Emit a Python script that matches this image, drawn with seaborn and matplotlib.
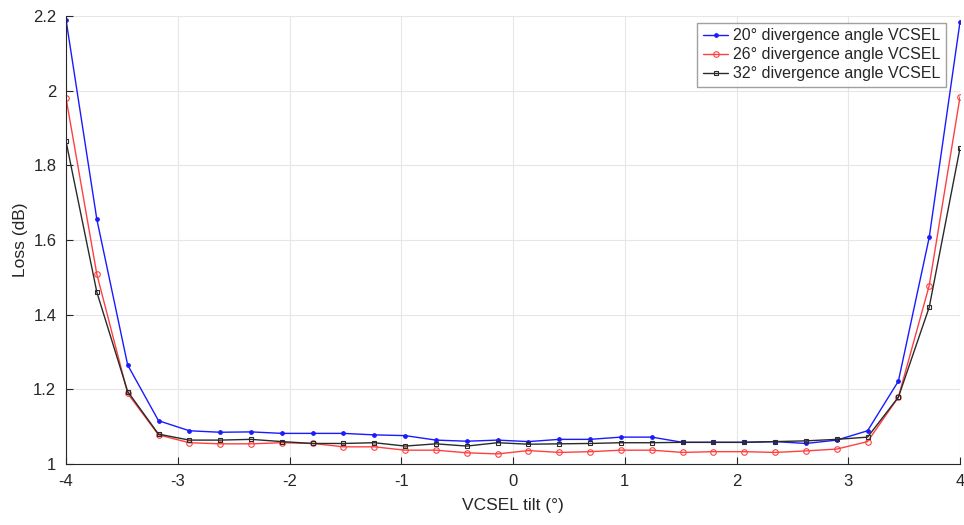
import numpy as np
import pandas as pd
import matplotlib
matplotlib.use("Agg")
import matplotlib.pyplot as plt
import seaborn as sns

# ---- data ----
tilt = np.linspace(-4, 4, 30)
loss_20 = [2.19, 1.655, 1.265, 1.116, 1.089, 1.085, 1.086, 1.082, 1.082, 1.082,
           1.078, 1.076, 1.064, 1.061, 1.064, 1.060, 1.066, 1.066, 1.072, 1.072,
           1.058, 1.058, 1.058, 1.060, 1.055, 1.064, 1.089, 1.222, 1.607, 2.185]
loss_26 = [1.98, 1.508, 1.189, 1.078, 1.057, 1.054, 1.054, 1.057, 1.055, 1.046,
           1.046, 1.037, 1.037, 1.030, 1.027, 1.036, 1.031, 1.033, 1.037, 1.037,
           1.031, 1.033, 1.033, 1.031, 1.035, 1.040, 1.060, 1.179, 1.478, 1.984]
loss_32 = [1.864, 1.46, 1.194, 1.080, 1.064, 1.064, 1.066, 1.060, 1.055, 1.055,
           1.057, 1.048, 1.054, 1.048, 1.057, 1.053, 1.054, 1.055, 1.057, 1.057,
           1.058, 1.058, 1.058, 1.060, 1.062, 1.066, 1.072, 1.179, 1.420, 1.847]
series_labels = ["20° divergence angle VCSEL",
                 "26° divergence angle VCSEL",
                 "32° divergence angle VCSEL"]
x_ticks = [-4, -3, -2, -1, 0, 1, 2, 3, 4]
y_ticks = [1, 1.2, 1.4, 1.6, 1.8, 2, 2.2]

sns.set_theme(style="white")
plt.rcParams['font.family'] = ['Liberation Sans', 'DejaVu Sans']

df = pd.concat([
    pd.DataFrame({"tilt": tilt, "loss": loss_20, "series": series_labels[0]}),
    pd.DataFrame({"tilt": tilt, "loss": loss_26, "series": series_labels[1]}),
    pd.DataFrame({"tilt": tilt, "loss": loss_32, "series": series_labels[2]}),
])

fig = plt.figure(figsize=(9.64, 5.25), dpi=100)
ax = fig.add_axes([0.0685, 0.1162, 0.9274, 0.8533])

styles = [
    dict(color="#1a1aff", marker="o", markersize=2.6, markerfacecolor="#1a1aff", markeredgecolor="#1a1aff"),
    dict(color="#ff4040", marker="o", markersize=4, markerfacecolor="none", markeredgecolor="#ff4040"),
    dict(color="#2a2a2a", marker="s", markersize=3.2, markerfacecolor="none", markeredgecolor="#2a2a2a"),
]
for lab, st in zip(series_labels, styles):
    sub = df[df["series"] == lab]
    sns.lineplot(data=sub, x="tilt", y="loss", ax=ax, label=lab, linewidth=1.0,
                 markeredgewidth=0.8, **st)

ax.set_xlim(-4, 4)
ax.set_ylim(1, 2.2)
ax.set_xticks(x_ticks)
ax.set_xticklabels([str(t) for t in x_ticks])
ax.set_yticks(y_ticks)
ax.set_yticklabels(["1", "1.2", "1.4", "1.6", "1.8", "2", "2.2"])
ax.grid(True, color="#e6e6e6", linewidth=0.8)
ax.set_axisbelow(True)
for s in ["top", "right"]:
    ax.spines[s].set_visible(False)
for s in ["left", "bottom"]:
    ax.spines[s].set_color("#262626")
    ax.spines[s].set_linewidth(0.8)
ax.tick_params(direction="in", length=5, width=0.8, colors="#262626",
               labelsize=12, bottom=True, left=True, pad=7)
ax.set_xlabel("VCSEL tilt (°)", fontsize=12.5, color="#262626", labelpad=7)
ax.set_ylabel("Loss (dB)", fontsize=12.5, color="#262626", labelpad=4)

leg = ax.legend(loc="upper right", bbox_to_anchor=(0.988, 0.992), fontsize=11.5,
                frameon=True, fancybox=False, edgecolor="#888888",
                handlelength=1.6, handletextpad=0.3, borderpad=0.35,
                labelspacing=0.25, borderaxespad=0.2)
leg.get_frame().set_linewidth(1.0)
for t in leg.get_texts():
    t.set_color("#262626")

fig.savefig("out.png", dpi=100)
